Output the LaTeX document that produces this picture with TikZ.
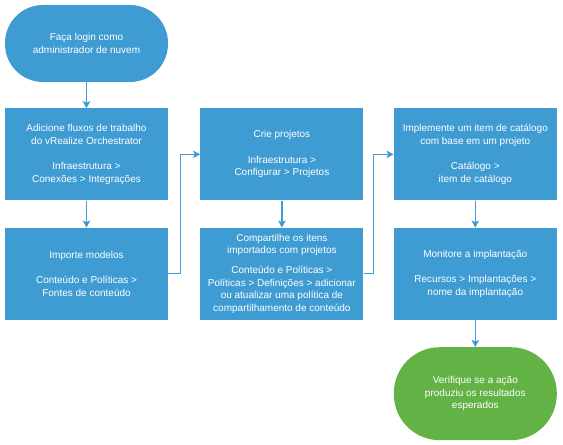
\documentclass[tikz,border=0pt]{standalone}
\usepackage{fontspec}
\setmainfont{Liberation Sans}
\usetikzlibrary{arrows.meta,positioning}
\definecolor{vmblue}{HTML}{3E9CD3}
\definecolor{vmgreen}{HTML}{63B246}
\tikzset{
    %Define standard arrow tip
    >={Stealth[length=7pt,width=7.5pt,inset=1.5pt]},
    %Define style for boxes
    etapa/.style={
           rectangle,
           fill=vmblue,
           text=white,
           minimum width=163pt,
           minimum height=92pt,
           inner sep=2pt,
           font=\fontsize{10}{12.5}\selectfont,
           align=center},
    inicio/.style={
           etapa,
           rounded corners=38pt,
           minimum height=77pt},
    fim/.style={
           etapa,
           fill=vmgreen,
           rounded corners=46pt,
           minimum height=93pt},
    % Define arrow style
    pil/.style={
           ->,
           draw=vmblue,
           line width=1.2pt}
}
\begin{document}
\begin{tikzpicture}[x=1pt,y=1pt]
\useasboundingbox (0,0) rectangle (563,445);

 %nodes
\node[inicio] (1) at (86.5,401.5) {Faça login como\\ administrador de nuvem};
\node[etapa, below=26pt of 1] (2) {Adicione fluxos de trabalho\\ do vRealize Orchestrator\\[13pt] Infraestrutura >\\ Conexões > Integrações};
\node[etapa, below=27pt of 2] (3) {Importe modelos\\[13pt] Conteúdo e Políticas >\\ Fontes de conteúdo};
\node[etapa, right=32pt of 2] (4) {Crie projetos\\[13pt] Infraestrutura >\\ Configurar > Projetos};
\node[etapa, below=27pt of 4] (5) {Compartilhe os itens\\ importados com projetos\\[7.5pt] Conteúdo e Políticas >\\ Políticas > Definições > adicionar\\ ou atualizar uma política de\\ compartilhamento de conteúdo};
\node[etapa, right=30pt of 4] (6) {Implemente um item de catálogo\\ com base em um projeto\\[13pt] Catálogo >\\ item de catálogo};
\node[etapa, below=27pt of 6] (7) {Monitore a implantação\\[13pt] Recursos > Implantações >\\ nome da implantação};
\node[fim, below=27pt of 7] (8) {Verifique se a ação\\ produziu os resultados\\ esperados};

 %arrows
\draw[pil] (1) -- (2);
\draw[pil] (2) -- (3);
\draw[pil] (3.east) -- ++(12pt,0) |- (4.west);
\draw[pil] (4) -- (5);
\draw[pil] (5.east) -- ++(10pt,0) |- (6.west);
\draw[pil] (6) -- (7);
\draw[pil] (7) -- (8);

\end{tikzpicture}
\end{document}
